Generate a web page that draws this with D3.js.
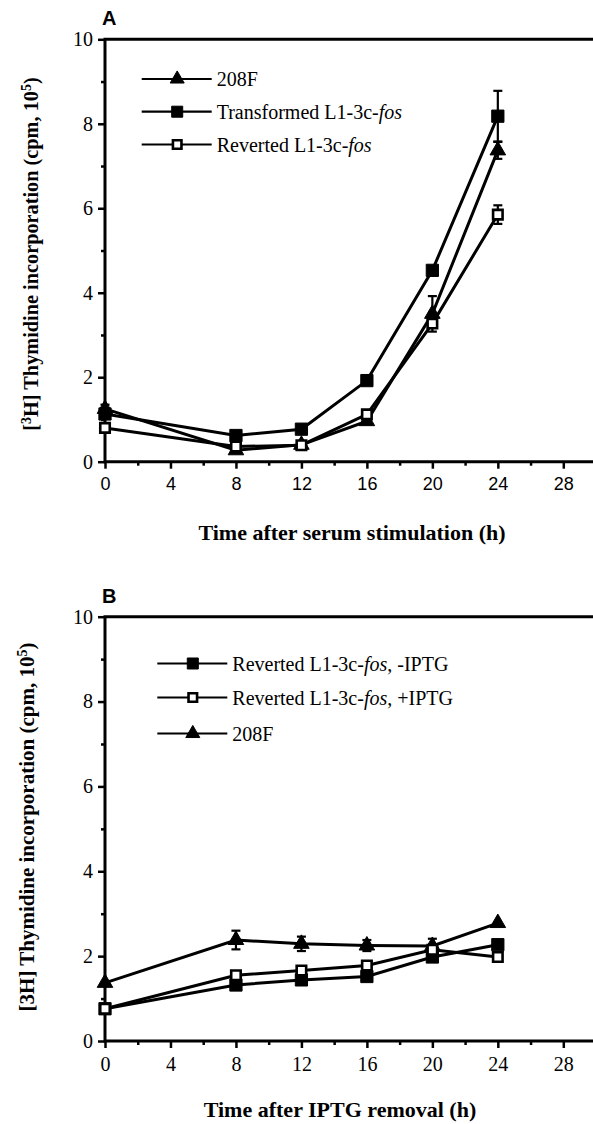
<!DOCTYPE html>
<html>
<head>
<meta charset="utf-8">
<script src="https://cdn.jsdelivr.net/npm/d3@7"></script>
<style>
  body { margin: 0; background: #fff; }
  svg { display: block; }
</style>
</head>
<body>
<svg width="593" height="1124"></svg>
<script>
// time points (h)
const hours = [0, 8, 12, 16, 20, 24];
const xMajorTicks = [0, 4, 8, 12, 16, 20, 24, 28];
const xMinorTicks = [2, 6, 10, 14, 18, 22, 26];
const yMajorTicks = [0, 2, 4, 6, 8, 10];
const yMinorTicks = [1, 3, 5, 7, 9];

// panel A
const a208F = [1.25, 0.27, 0.4, 0.96, 3.5, 7.37];
const a208FErr = [0.1, 0.05, 0.05, 0.05, 0.42, 0.2];
const aTransformed = [1.13, 0.62, 0.77, 1.92, 4.53, 8.18];
const aTransformedErr = [0.08, 0.05, 0.05, 0.06, 0.1, 0.6];
const aReverted = [0.8, 0.36, 0.39, 1.12, 3.27, 5.85];
const aRevertedErr = [0.05, 0.05, 0.05, 0.06, 0.08, 0.22];

// panel B
const bMinusIPTG = [0.76, 1.32, 1.44, 1.52, 1.98, 2.27];
const bMinusIPTGErr = [0.05, 0.05, 0.05, 0.05, 0.08, 0.08];
const bPlusIPTG = [0.76, 1.55, 1.66, 1.78, 2.15, 1.98];
const bPlusIPTGErr = [0.05, 0.08, 0.06, 0.06, 0.08, 0.06];
const b208F = [1.37, 2.38, 2.29, 2.25, 2.24, 2.78];
const b208FErr = [0.05, 0.22, 0.17, 0.13, 0.17, 0.05];

const serif = "'Liberation Serif', 'Times New Roman', serif";
const sans = "'Liberation Sans', Arial, sans-serif";

const svg = d3.select("svg");
const W = 593;

const x = d3.scaleLinear().domain([0, 28]).range([105, 563.3]);

function panel(opts) {
  const y = d3.scaleLinear().domain([0, 10]).range([opts.bottom, opts.top]);
  const g = svg.append("g");

  // panel letter
  g.append("text")
    .attr("x", 102).attr("y", opts.top - 14)
    .style("font-family", sans).style("font-weight", "bold").style("font-size", "20px")
    .text(opts.letter);

  // y axis
  const yAxis = g.append("g").attr("transform", `translate(${x(0)},0)`);
  yAxis.call(d3.axisLeft(y).tickValues(yMajorTicks).tickSize(7).tickSizeOuter(0).tickPadding(5));
  yAxis.select(".domain").remove();
  yAxis.selectAll("line").attr("stroke-width", 2.5);
  yAxis.selectAll("text").style("font-family", serif).style("font-size", "20px").attr("fill", "#000");
  const yMinor = g.append("g").attr("transform", `translate(${x(0)},0)`);
  yMinor.call(d3.axisLeft(y).tickValues(yMinorTicks).tickSize(4).tickFormat(""));
  yMinor.select(".domain").remove();
  yMinor.selectAll("line").attr("stroke-width", 2.5);

  // x axis
  const xAxis = g.append("g").attr("transform", `translate(0,${y(0)})`);
  xAxis.call(d3.axisBottom(x).tickValues(xMajorTicks).tickSize(7).tickSizeOuter(0).tickPadding(9));
  xAxis.select(".domain").remove();
  xAxis.selectAll("line").attr("stroke-width", 2.5);
  xAxis.selectAll("text").style("font-family", opts.xTickFont).style("font-size", opts.xTickSize).attr("fill", "#000");
  const xMinor = g.append("g").attr("transform", `translate(0,${y(0)})`);
  xMinor.call(d3.axisBottom(x).tickValues(xMinorTicks).tickSize(4).tickFormat(""));
  xMinor.select(".domain").remove();
  xMinor.selectAll("line").attr("stroke-width", 2.5);

  // frame: left, top, bottom (open on the right)
  g.append("path")
    .attr("d", `M${W},${y(10)}H${x(0)}V${y(0)}H${W}`)
    .attr("fill", "none").attr("stroke", "#000").attr("stroke-width", 3);

  // axis titles
  g.append("text")
    .attr("x", opts.xTitleX).attr("y", y(0) + opts.xTitleDy)
    .attr("text-anchor", "middle")
    .style("font-family", serif).style("font-weight", "bold").style("font-size", "22px")
    .text(opts.xTitle);

  const yt = g.append("text")
    .attr("transform", `translate(${opts.yTitleX},${opts.yTitleY}) rotate(-90)`)
    .attr("text-anchor", "middle")
    .style("font-family", serif).style("font-weight", "bold").style("font-size", opts.yTitleSize);
  opts.yTitle.forEach(p => {
    const t = yt.append("tspan").text(p.t);
    if (p.sup) t.attr("baseline-shift", "super").style("font-size", "14px");
  });

  const line = d3.line().x((d, i) => x(hours[i])).y(d => y(d));

  opts.series.forEach(s => {
    g.append("path")
      .datum(s.values)
      .attr("d", line)
      .attr("fill", "none").attr("stroke", "#000").attr("stroke-width", 3);
  });

  // error bars
  opts.series.forEach(s => {
    const eb = g.append("g").attr("stroke", "#000").attr("stroke-width", 2.2);
    s.values.forEach((v, i) => {
      const e = s.err[i];
      if (e < 0.08) return;
      const cx = x(hours[i]);
      eb.append("line").attr("x1", cx).attr("x2", cx).attr("y1", y(v - e)).attr("y2", y(v + e));
      eb.append("line").attr("x1", cx - 4.5).attr("x2", cx + 4.5).attr("y1", y(v + e)).attr("y2", y(v + e));
      eb.append("line").attr("x1", cx - 4.5).attr("x2", cx + 4.5).attr("y1", y(v - e)).attr("y2", y(v - e));
    });
  });

  // markers
  opts.series.forEach(s => {
    g.selectAll(null)
      .data(s.values)
      .join("path")
      .attr("transform", (d, i) => `translate(${x(hours[i])},${y(d)})`)
      .each(function () { drawMarker(d3.select(this), s.marker, 1); });
  });

  // legend
  opts.legend.forEach((s, i) => {
    const ly = opts.legendY[i];
    const row = g.append("g").attr("transform", `translate(0,${ly})`);
    row.append("line")
      .attr("x1", opts.legendX0).attr("x2", opts.legendX0 + 70)
      .attr("stroke", "#000").attr("stroke-width", 2.2);
    const m = row.append("path").attr("transform", `translate(${opts.legendX0 + 35.5},0)`);
    drawMarker(m, s.marker, 0.9);
    const t = row.append("text")
      .attr("x", opts.legendX0 + 75).attr("y", 7)
      .style("font-family", serif).style("font-size", "20px");
    s.label.forEach(p => {
      const sp = t.append("tspan").text(p.t);
      if (p.it) sp.style("font-style", "italic");
    });
  });
}

function drawMarker(sel, type, k) {
  if (type === "triangle") {
    sel.attr("d", d3.symbol().type(d3.symbolTriangle).size(105 * k * k)())
      .attr("fill", "#000").attr("stroke", "#000").attr("stroke-width", 1);
  } else if (type === "square") {
    sel.attr("d", d3.symbol().type(d3.symbolSquare).size(150 * k * k)())
      .attr("fill", "#000").attr("stroke", "#000").attr("stroke-width", 1);
  } else {
    sel.attr("d", d3.symbol().type(d3.symbolSquare).size(90 * k * k)())
      .attr("fill", "#fff").attr("stroke", "#000").attr("stroke-width", 2.6);
  }
}

panel({
  letter: "A",
  top: 39.3, bottom: 461.7,
  xTickFont: sans, xTickSize: "18px",
  xTitle: "Time after serum stimulation (h)", xTitleX: 352, xTitleDy: 78,
  yTitle: [{t: "["}, {t: "3", sup: true}, {t: "H] Thymidine incorporation (cpm, 10"}, {t: "5", sup: true}, {t: ")"}],
  yTitleX: 38, yTitleY: 254, yTitleSize: "20.3px",
  series: [
    {values: a208F, err: a208FErr, marker: "triangle"},
    {values: aReverted, err: aRevertedErr, marker: "open"},
    {values: aTransformed, err: aTransformedErr, marker: "square"}
  ],
  legend: [
    {marker: "triangle", label: [{t: "208F"}]},
    {marker: "square", label: [{t: "Transformed L1-3c-"}, {t: "fos", it: true}]},
    {marker: "open", label: [{t: "Reverted L1-3c-"}, {t: "fos", it: true}]}
  ],
  legendX0: 141.7, legendY: [79, 111.7, 144.5]
});

panel({
  letter: "B",
  top: 616.7, bottom: 1041,
  xTickFont: serif, xTickSize: "20px",
  xTitle: "Time after IPTG removal (h)", xTitleX: 340, xTitleDy: 76,
  yTitle: [{t: "[3H] Thymidine incorporation (cpm, 10"}, {t: "5", sup: true}, {t: ")"}],
  yTitleX: 34, yTitleY: 827, yTitleSize: "21px",
  series: [
    {values: b208F, err: b208FErr, marker: "triangle"},
    {values: bMinusIPTG, err: bMinusIPTGErr, marker: "square"},
    {values: bPlusIPTG, err: bPlusIPTGErr, marker: "open"}
  ],
  legend: [
    {marker: "square", label: [{t: "Reverted L1-3c-"}, {t: "fos", it: true}, {t: ", -IPTG"}]},
    {marker: "open", label: [{t: "Reverted L1-3c-"}, {t: "fos", it: true}, {t: ", +IPTG"}]},
    {marker: "triangle", label: [{t: "208F"}]}
  ],
  legendX0: 157.3, legendY: [663.5, 697.5, 733.5]
});
</script>
</body>
</html>
